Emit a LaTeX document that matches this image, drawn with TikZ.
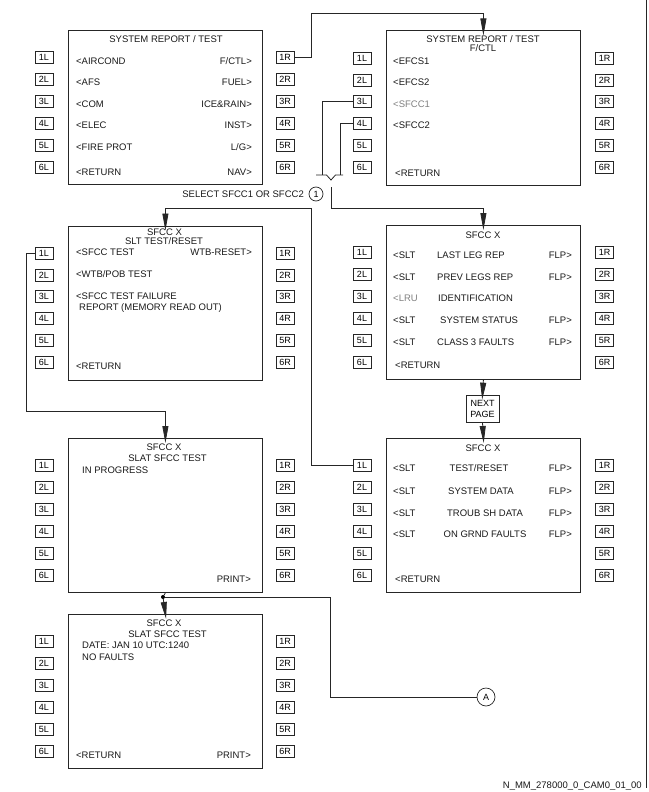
\documentclass[tikz,border=0pt]{standalone}
\usepackage{fontspec}
\setmainfont{Liberation Sans}
\usetikzlibrary{arrows.meta}
\newcommand{\screenbox}[5]{%
  \node[scr, anchor=north west] (#1) at (#2,#3) {};
  \foreach \i in {1,...,6} {
    \node[key] (#1L\i) at (#4, {#3+27.5+21.9*(\i-1)}) {\i L};
    \node[key] (#1R\i) at (#5, {#3+27.5+21.9*(\i-1)}) {\i R};
  }
}
\begin{document}
\begin{tikzpicture}[x=1pt,y=-1pt,
  ln/.style={line width=0.8pt, draw=black!85},
  scr/.style={draw=black!85, line width=0.8pt, minimum width=194pt, minimum height=154pt, inner sep=0pt},
  key/.style={draw=black!85, line width=0.7pt, minimum width=18pt, minimum height=12pt, inner sep=0pt, font=\fontsize{9}{9}\selectfont},
  t/.style={inner sep=0pt, text height=6.8pt, text depth=0pt, font=\fontsize{9.5}{10}\selectfont, text=black!90},
  tw/.style={t, anchor=west}, te/.style={t, anchor=east},
  gr/.style={text=black!50},
  arr/.style={ln, -{Triangle[length=17pt,width=6pt]}, shorten >=-5pt},
]
\useasboundingbox (0,0) rectangle (648,792);

% screens
\screenbox{s1}{68}{30}{44}{285}
\screenbox{s2}{386}{30.5}{362}{604.5}
\screenbox{s3}{68}{225.5}{44}{285}
\screenbox{s4}{386}{225}{362}{604.5}
\screenbox{s5}{68}{438}{44}{285}
\screenbox{s6}{386}{438}{362}{604.5}
\screenbox{s7}{68}{614}{44}{285}

% screen 1
\node[t] (s1t) at (166,39) {SYSTEM REPORT / TEST};
\node[tw] (s1a) at (76,61) {<AIRCOND};
\node[tw] (s1b) at (76,82) {<AFS};
\node[tw] (s1c) at (76,104) {<COM};
\node[tw] (s1d) at (76,125) {<ELEC};
\node[tw] (s1e) at (76,147) {<FIRE PROT};
\node[tw] (s1f) at (76,172) {<RETURN};
\node[te] (s1g) at (252,61) {F/CTL>};
\node[te] (s1h) at (252,82) {FUEL>};
\node[te] (s1i) at (252,104) {ICE\&RAIN>};
\node[te] (s1j) at (252,125) {INST>};
\node[te] (s1k) at (252,147) {L/G>};
\node[te] (s1l) at (252,172) {NAV>};

% screen 2
\node[t] (s2t) at (483,39) {SYSTEM REPORT / TEST};
\node[t] (s2u) at (483,48) {F/CTL};
\node[tw] (s2a) at (393,61) {<EFCS1};
\node[tw] (s2b) at (393,82) {<EFCS2};
\node[tw, gr] (s2c) at (393,104) {<SFCC1};
\node[tw] (s2d) at (393,125) {<SFCC2};
\node[tw] (s2e) at (395,173) {<RETURN};

% screen 3
\node[t] (s3t) at (164.5,232) {SFCC X};
\node[t] (s3u) at (164,241) {SLT TEST/RESET};
\node[tw] (s3a) at (76,252) {<SFCC TEST};
\node[te] (s3b) at (252,252) {WTB-RESET>};
\node[tw] (s3c) at (76,274) {<WTB/POB TEST};
\node[tw] (s3d) at (76,296) {<SFCC TEST FAILURE};
\node[tw] (s3e) at (79,307) {REPORT (MEMORY READ OUT)};
\node[tw] (s3f) at (76,366) {<RETURN};

% screen 4
\node[t] (s4t) at (483,235) {SFCC X};
\node[tw] (s4a1) at (393,255) {<SLT};
\node[tw] (s4a2) at (393,277) {<SLT};
\node[tw, gr] (s4a3) at (393,298) {<LRU};
\node[tw] (s4a4) at (393,320) {<SLT};
\node[tw] (s4a5) at (393,342) {<SLT};
\node[tw] (s4b1) at (437,255) {LAST LEG REP};
\node[tw] (s4b2) at (437,277) {PREV LEGS REP};
\node[tw] (s4b3) at (438,298) {IDENTIFICATION};
\node[tw] (s4b4) at (440,320) {SYSTEM STATUS};
\node[tw] (s4b5) at (437,342) {CLASS 3 FAULTS};
\node[te] (s4c1) at (572,255) {FLP>};
\node[te] (s4c2) at (572,277) {FLP>};
\node[te] (s4c4) at (572,320) {FLP>};
\node[te] (s4c5) at (572,342) {FLP>};
\node[tw] (s4d) at (395,365) {<RETURN};

% next page
\node[draw=black!85, line width=0.7pt, minimum width=33pt, minimum height=27pt, inner sep=0pt, align=center, font=\fontsize{9}{11}\selectfont] (np) at (482.5,408.5) {NEXT\\PAGE};

% screen 5
\node[t] (s5t) at (164,447) {SFCC X};
\node[t] (s5u) at (167.5,458) {SLAT SFCC TEST};
\node[tw] (s5a) at (82,470) {IN PROGRESS};
\node[te] (s5b) at (251,579) {PRINT>};

% screen 6
\node[t] (s6t) at (483,448) {SFCC X};
\node[tw] (s6a1) at (393,468) {<SLT};
\node[tw] (s6a2) at (393,491) {<SLT};
\node[tw] (s6a3) at (393,513) {<SLT};
\node[tw] (s6a4) at (393,534) {<SLT};
\node[t] (s6b1) at (479,468) {TEST/RESET};
\node[t] (s6b2) at (481,491) {SYSTEM DATA};
\node[t] (s6b3) at (485,513) {TROUB SH DATA};
\node[t] (s6b4) at (485,534) {ON GRND FAULTS};
\node[te] (s6c1) at (572,468) {FLP>};
\node[te] (s6c2) at (572,491) {FLP>};
\node[te] (s6c3) at (572,513) {FLP>};
\node[te] (s6c4) at (572,534) {FLP>};
\node[tw] (s6d) at (395,579) {<RETURN};

% screen 7
\node[t] (s7t) at (164,623) {SFCC X};
\node[t] (s7u) at (167.5,634) {SLAT SFCC TEST};
\node[tw] (s7a) at (82,645) {DATE: JAN 10 UTC:1240};
\node[tw] (s7b) at (82,657) {NO FAULTS};
\node[tw] (s7c) at (76,755) {<RETURN};
\node[te] (s7d) at (251,755) {PRINT>};

% labels and markers
\node[te] (sel) at (304,194) {SELECT SFCC1 OR SFCC2};
\node[circle, draw=black!85, line width=0.7pt, minimum size=14pt, inner sep=0pt, font=\fontsize{9}{10}\selectfont] (c1) at (316,194) {1};
\node[circle, draw=black!85, line width=0.7pt, minimum size=18pt, inner sep=0pt, font=\fontsize{9}{10}\selectfont] (cA) at (486,697) {A};
\node[circle, fill=black, inner sep=0pt, minimum size=4pt] (dot) at (163,597) {};
\node[te] (foot) at (642,785) {N\_MM\_278000\_0\_CAM0\_01\_00};

% fork coordinates
\coordinate (fa) at (322,175);
\coordinate (fb) at (340,175);
\coordinate (fk) at (331,187);
\coordinate (up1) at (311,13);
\coordinate (hb) at (311,208);
\coordinate (lft) at (26,411);
\coordinate (rr) at (330,697);

% connectors
\draw[arr] (s1R1.east) -| (up1) -| (s2.north);
\draw[ln] (s2L3.west) -| (fa);
\draw[ln] (s2L4.west) -| (fb);
\draw[ln] (316,175) -- (326.5,175) -- (331,180) -- (335.5,175) -- (343,175);
\draw[arr] (fk) -- (331,208) -| (s4.north);
\draw[arr] (s6L1.west) -| (hb) -| (s3.north);
\draw[arr] (s3L1.west) -| (lft) -| (s5.north);
\draw[arr] (s4.south) -- (np.north);
\draw[arr] (np.south) -- (s6.north);
\draw[ln] (s5.south) -- (dot);
\draw[arr] (dot) -- (s7.north);
\draw[ln] (dot) -| (rr) -- (cA.west);

% right border
\draw[ln] (646.5,0) -- (646.5,788);
\end{tikzpicture}
\end{document}
